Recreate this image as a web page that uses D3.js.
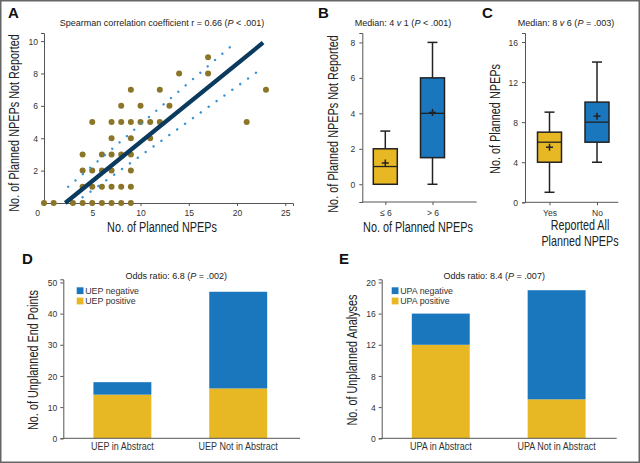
<!DOCTYPE html>
<html><head><meta charset="utf-8">
<script src="https://cdn.jsdelivr.net/npm/d3@7"></script>
<style>
html,body{margin:0;padding:0;background:#fff;}
svg text{font-family:'Liberation Sans Narrow','Arial Narrow','Liberation Sans',Arial,sans-serif;}
</style></head>
<body><svg id="c" width="640" height="463"></svg>
<script>
// ---------- DATA ----------
// Panel A: scatter (x = No. of Planned NPEPs, y = No. Not Reported)
const scatterX = [0,1,3,4,5,6,7,8,9, 4,5,6,7,8,9, 4,5,6,7,9, 4,6,7,8,9, 7,9,11, 5,7,8,9,10,11,12,21, 8,10,13, 9,12,23, 14,17, 17];
const scatterY = [0,0,0,0,0,0,0,0,0, 1,1,1,1,1,1, 2,2,2,2,2, 3,3,3,3,3, 4,4,4, 5,5,5,5,5,5,5,5, 6,6,6, 7,7,7, 8,8, 9];
const fitX = [2.2, 22.7];
const fitY = [0, 9.9];
const upperX = [2.5, 19.8];
const upperY = [1.0, 9.9];
const lowerX = [4.0, 22.1];
const lowerY = [0.35, 8.1];
const xTicksA = [0,5,10,15,20,25];
const yTicksA = [2,4,6,8,10];

// Panel B: box plots
const catsB = ["\u2264 6", "> 6"];
const boxB = [
  {lo:0, q1:0, med:1, q3:2, hi:3, mean:1.2},
  {lo:0, q1:1.5, med:4, q3:6, hi:8, mean:4.05}
];
const yTicksB = [0,2,4,6,8];

// Panel C: box plots
const catsC = ["Yes", "No"];
const boxC = [
  {lo:1, q1:4, med:6, q3:7, hi:9, mean:5.5},
  {lo:4, q1:6, med:8, q3:10, hi:14, mean:8.6}
];
const yTicksC = [0,4,8,12,16];

// Panel D: stacked bars
const catsD = ["UEP in Abstract", "UEP Not in Abstract"];
const posD = [14, 16];
const negD = [4, 31];
const yTicksD = [0,10,20,30,40,50];

// Panel E: stacked bars
const catsE = ["UPA in Abstract", "UPA Not in Abstract"];
const posE = [12, 5];
const negE = [4, 14];
const yTicksE = [0,4,8,12,16,20];

// ---------- STYLE ----------
const GOLD = "#e7b824", BLUE = "#1a76bd", OLIVE = "#8b7528", NAVY = "#0b3a5f", DOTBLUE = "#3a93d3";
const AX = "#555", TXT = "#333";

const svg = d3.select("#c");
svg.append("rect").attr("x",0.75).attr("y",0.75).attr("width",638.5).attr("height",461.5)
  .attr("fill","#fff").attr("stroke","#666").attr("stroke-width",1.5);

function squeeze(sel, s){
  sel.each(function(){
    const x = +(this.getAttribute("x")||0), y = +(this.getAttribute("y")||0);
    const t = this.getAttribute("transform")||"";
    this.setAttribute("transform", `${t} translate(${x},${y}) scale(${s},1) translate(${-x},${-y})`);
  });
  return sel;
}
function styleAxis(g){
  g.select(".domain").attr("stroke",AX);
  g.selectAll(".tick line").attr("stroke",AX);
  squeeze(g.selectAll(".tick text").attr("fill",TXT).attr("font-size",9.5), 0.9);
}
function label(x,y,t,opts={}){
  const e = svg.append("text").attr("x",x).attr("y",y).attr("fill",opts.fill||"#222")
    .attr("font-size",opts.size||11).attr("text-anchor",opts.anchor||"middle");
  if(opts.bold) e.attr("font-weight","bold").style("font-family","'Liberation Sans',Arial,sans-serif");
  e.text(t);
  if(opts.sq) squeeze(e, opts.sq);
  return e;
}
function titleB(x,y,parts){
  const t = svg.append("text").attr("x",x).attr("y",y).attr("text-anchor","middle")
    .attr("font-size",9.5).attr("fill","#222");
  parts.forEach(p=>{ const s=t.append("tspan").text(p[0]); if(p[1]) s.attr("font-style","italic"); });
  squeeze(t, 0.95);
  return t;
}
function yTitle(x,y,t){
  const e = svg.append("text").attr("transform",`translate(${x},${y}) rotate(-90)`)
    .attr("text-anchor","middle").attr("font-size",14.5).attr("fill","#222").text(t);
  squeeze(e, 0.75);
}
const AXT = {size:14.5, sq:0.75};

// ---------- PANEL A ----------
{
  const x = d3.scaleLinear().domain([0,25.8]).range([44,293]);
  const y = d3.scaleLinear().domain([0,10.5]).range([203,33]);
  const gx = svg.append("g").attr("transform","translate(0,203)")
    .call(d3.axisBottom(x).tickValues(xTicksA).tickSize(3).tickPadding(3));
  gx.selectAll(".tick text").filter(d=>d===0).attr("x",-7);
  styleAxis(gx);
  const gy = svg.append("g").attr("transform","translate(44,0)")
    .call(d3.axisLeft(y).tickValues(yTicksA).tickSize(3).tickPadding(3));
  styleAxis(gy);

  svg.append("g").selectAll("circle").data(scatterX).join("circle")
    .attr("cx",(d)=>x(d)).attr("cy",(d,i)=>y(scatterY[i])).attr("r",3).attr("fill",OLIVE);

  const line = d3.line().x(d=>x(d[0])).y(d=>y(d[1]));
  svg.append("path").attr("d",line(d3.zip(upperX,upperY))).attr("fill","none")
    .attr("stroke",DOTBLUE).attr("stroke-width",2.4).attr("stroke-linecap","round").attr("stroke-dasharray","0.1,9.6");
  svg.append("path").attr("d",line(d3.zip(lowerX,lowerY))).attr("fill","none")
    .attr("stroke",DOTBLUE).attr("stroke-width",2.4).attr("stroke-linecap","round").attr("stroke-dasharray","0.1,9.6");
  svg.append("path").attr("d",line(d3.zip(fitX,fitY))).attr("fill","none")
    .attr("stroke",NAVY).attr("stroke-width",4.2);

  label(8,18,"A",{bold:true,size:15,anchor:"start",fill:"#111"});
  titleB(162,26,[["Spearman correlation coefficient r = 0.66 ("],["P",1],[" < .001)"]]);
  label(162,232,"No. of Planned NPEPs",AXT);
  yTitle(19,123,"No. of Planned NPEPs Not Reported");
}

// ---------- BOX helper ----------
function boxes(cats, data, x, y, colors, bw){
  const g = svg.append("g");
  const st = (e,w)=>e.attr("stroke","#222").attr("stroke-width",w||1.5);
  data.forEach((d,i)=>{
    const cx = x(cats[i]);
    st(g.append("line").attr("x1",cx).attr("x2",cx).attr("y1",y(d.hi)).attr("y2",y(d.q3)));
    st(g.append("line").attr("x1",cx).attr("x2",cx).attr("y1",y(d.q1)).attr("y2",y(d.lo)));
    st(g.append("line").attr("x1",cx-5).attr("x2",cx+5).attr("y1",y(d.hi)).attr("y2",y(d.hi)));
    st(g.append("line").attr("x1",cx-5).attr("x2",cx+5).attr("y1",y(d.lo)).attr("y2",y(d.lo)));
    st(g.append("rect").attr("x",cx-bw/2).attr("y",y(d.q3)).attr("width",bw).attr("height",y(d.q1)-y(d.q3))
      .attr("fill",colors[i]));
    st(g.append("line").attr("x1",cx-bw/2).attr("x2",cx+bw/2).attr("y1",y(d.med)).attr("y2",y(d.med)),1.3);
    st(g.append("line").attr("x1",cx-3.5).attr("x2",cx+3.5).attr("y1",y(d.mean)).attr("y2",y(d.mean)));
    st(g.append("line").attr("x1",cx).attr("x2",cx).attr("y1",y(d.mean)-3.5).attr("y2",y(d.mean)+3.5));
  });
}

// ---------- PANEL B ----------
{
  const x = d3.scalePoint().domain(catsB).range([385.3,432.5]);
  const y = d3.scaleLinear().domain([-1,8.53]).range([202,33]);
  svg.append("line").attr("x1",362.3).attr("x2",476.7).attr("y1",202).attr("y2",202).attr("stroke",AX);
  const gx = svg.append("g").attr("transform","translate(0,202)")
    .call(d3.axisBottom(x).tickSize(3).tickPadding(4));
  styleAxis(gx); gx.select(".domain").remove();
  const gy = svg.append("g").attr("transform","translate(362.3,0)")
    .call(d3.axisLeft(y).tickValues(yTicksB).tickSize(3).tickPadding(4));
  styleAxis(gy);
  boxes(catsB, boxB, x, y, [GOLD, BLUE], 24);
  label(318,18,"B",{bold:true,size:15,anchor:"start",fill:"#111"});
  titleB(403,26,[["Median: 4 "],["v",1],[" 1 ("],["P",1],[" < .001)"]]);
  label(418,232,"No. of Planned NPEPs",AXT);
  yTitle(338,124,"No. of Planned NPEPs Not Reported");
}

// ---------- PANEL C ----------
{
  const x = d3.scalePoint().domain(catsC).range([549.5,597]);
  const y = d3.scaleLinear().domain([0,16.9]).range([202.3,33]);
  svg.append("line").attr("x1",525).attr("x2",618.3).attr("y1",202.3).attr("y2",202.3).attr("stroke",AX);
  const gx = svg.append("g").attr("transform","translate(0,202.3)")
    .call(d3.axisBottom(x).tickSize(3).tickPadding(4));
  styleAxis(gx); gx.select(".domain").remove();
  const gy = svg.append("g").attr("transform","translate(525,0)")
    .call(d3.axisLeft(y).tickValues(yTicksC).tickSize(3).tickPadding(4));
  styleAxis(gy);
  boxes(catsC, boxC, x, y, [GOLD, BLUE], 24);
  label(482,18,"C",{bold:true,size:15,anchor:"start",fill:"#111"});
  titleB(566,26,[["Median: 8 "],["v",1],[" 6 ("],["P",1],[" = .003)"]]);
  const ct = svg.append("text").attr("x",580).attr("y",230).attr("text-anchor","middle")
    .attr("font-size",13.8).attr("fill","#222");
  ct.append("tspan").attr("x",580).text("Reported All");
  ct.append("tspan").attr("x",580).attr("dy",15.6).text("Planned NPEPs");
  squeeze(ct,0.78);
  yTitle(499.5,119,"No. of Planned NPEPs");
}

// ---------- BAR helper ----------
function bars(cats,pos,neg,x,y){
  const g = svg.append("g");
  g.selectAll("rect.p").data(pos).join("rect").attr("class","p")
    .attr("x",(d,i)=>x(cats[i])).attr("width",x.bandwidth())
    .attr("y",d=>y(d)).attr("height",d=>y(0)-y(d)).attr("fill",GOLD);
  g.selectAll("rect.n").data(neg).join("rect").attr("class","n")
    .attr("x",(d,i)=>x(cats[i])).attr("width",x.bandwidth())
    .attr("y",(d,i)=>y(pos[i]+d)).attr("height",(d,i)=>y(pos[i])-y(pos[i]+d)).attr("fill",BLUE);
}
function legend(x0,y0,names){
  [[BLUE,names[0]],[GOLD,names[1]]].forEach((e,i)=>{
    svg.append("rect").attr("x",x0).attr("y",y0+i*10.3).attr("width",6.8).attr("height",6.8).attr("fill",e[0]);
    const t = svg.append("text").attr("x",x0+8.5).attr("y",y0+i*10.3+6.8).attr("font-size",9.3).attr("fill","#333").text(e[1]);
    squeeze(t,0.95);
  });
}

// ---------- PANEL D ----------
{
  const x = d3.scaleBand().domain(catsD).range([63.3,297.3]).paddingInner(0.5).paddingOuter(0.26);
  const y = d3.scaleLinear().domain([0,51]).range([438.3,279.3]);
  bars(catsD,posD,negD,x,y);
  svg.append("line").attr("x1",63.3).attr("x2",300).attr("y1",438.3).attr("y2",438.3).attr("stroke",AX);
  const gx = svg.append("g").attr("transform","translate(0,438.3)")
    .call(d3.axisBottom(x).tickSize(0).tickPadding(5));
  styleAxis(gx); gx.select(".domain").remove();
  gx.selectAll(".tick text").attr("font-size",10);
  const gy = svg.append("g").attr("transform","translate(63.3,0)")
    .call(d3.axisLeft(y).tickValues(yTicksD).tickSize(3).tickPadding(3));
  styleAxis(gy);
  legend(76.7,287.3,["UEP negative","UEP positive"]);
  label(22,264,"D",{bold:true,size:15,anchor:"start",fill:"#111"});
  titleB(176.3,279,[["Odds ratio: 6.8 ("],["P",1],[" = .002)"]]);
  yTitle(38,360,"No. of Unplanned End Points");
}

// ---------- PANEL E ----------
{
  const x = d3.scaleBand().domain(catsE).range([381.7,615.7]).paddingInner(0.5).paddingOuter(0.26);
  const y = d3.scaleLinear().domain([0,20.4]).range([438.3,279.3]);
  bars(catsE,posE,negE,x,y);
  svg.append("line").attr("x1",381.7).attr("x2",616.7).attr("y1",438.3).attr("y2",438.3).attr("stroke",AX);
  const gx = svg.append("g").attr("transform","translate(0,438.3)")
    .call(d3.axisBottom(x).tickSize(0).tickPadding(5));
  styleAxis(gx); gx.select(".domain").remove();
  gx.selectAll(".tick text").attr("font-size",10);
  const gy = svg.append("g").attr("transform","translate(381.7,0)")
    .call(d3.axisLeft(y).tickValues(yTicksE).tickSize(3).tickPadding(3));
  styleAxis(gy);
  legend(391.7,287.3,["UPA negative","UPA positive"]);
  label(339,264,"E",{bold:true,size:15,anchor:"start",fill:"#111"});
  titleB(494.2,279,[["Odds ratio: 8.4 ("],["P",1],[" = .007)"]]);
  yTitle(356.5,360,"No. of Unplanned Analyses");
}
</script></body></html>
